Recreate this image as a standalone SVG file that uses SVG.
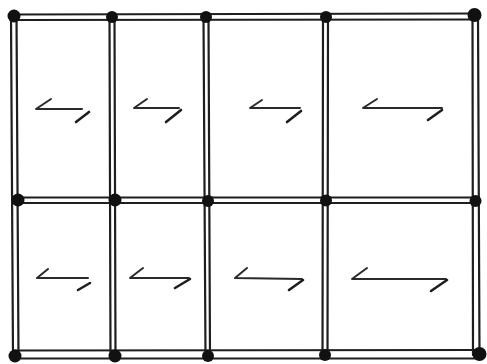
<svg xmlns="http://www.w3.org/2000/svg" width="487" height="364" viewBox="0 0 487 364">
<style>
.ln{stroke:#1e1e1e;stroke-width:2.2;fill:none;stroke-linecap:round}
.dot{fill:#111}
.ar{stroke:#2a2a2a;stroke-width:2;fill:none;stroke-linecap:round;stroke-linejoin:round}
.hk{stroke:#1e1e1e;stroke-width:2.6;fill:none;stroke-linecap:round}
</style>
<rect width="487" height="364" fill="#fff"/>
<g id="grid">
<line class="ln" x1="13" y1="14.5" x2="476" y2="13.5"/>
<line class="ln" x1="13" y1="20" x2="476" y2="19.5"/>
<line class="ln" x1="15" y1="197.5" x2="478" y2="197.5"/>
<line class="ln" x1="15" y1="203" x2="478" y2="203"/>
<line class="ln" x1="14" y1="350.5" x2="480" y2="350"/>
<line class="ln" x1="14" y1="358.5" x2="480" y2="358.5"/>
<line class="ln" x1="11" y1="16" x2="13" y2="357"/>
<line class="ln" x1="16.5" y1="16" x2="18.5" y2="357"/>
<line class="ln" x1="109.5" y1="17" x2="110.5" y2="356"/>
<line class="ln" x1="114.5" y1="17" x2="115.5" y2="356"/>
<line class="ln" x1="203.5" y1="17" x2="205.5" y2="356"/>
<line class="ln" x1="208.5" y1="17" x2="210" y2="356"/>
<line class="ln" x1="323" y1="17" x2="322.5" y2="356"/>
<line class="ln" x1="328" y1="17" x2="327.5" y2="356"/>
<line class="ln" x1="472.5" y1="15" x2="473" y2="355"/>
<line class="ln" x1="478" y1="15" x2="479.5" y2="355"/>
</g>
<g id="junctions">
<circle class="dot" cx="14" cy="16" r="6.5"/>
<circle class="dot" cx="112" cy="17" r="6"/>
<circle class="dot" cx="206" cy="17" r="6"/>
<circle class="dot" cx="326" cy="17" r="6"/>
<circle class="dot" cx="474.5" cy="15" r="7"/>
<circle class="dot" cx="18" cy="200" r="6.5"/>
<circle class="dot" cx="115" cy="200" r="6.5"/>
<circle class="dot" cx="208" cy="201" r="6"/>
<circle class="dot" cx="326" cy="200.5" r="6"/>
<circle class="dot" cx="475.5" cy="201" r="6"/>
<circle class="dot" cx="15" cy="356" r="6.5"/>
<circle class="dot" cx="115" cy="356" r="6.5"/>
<circle class="dot" cx="208" cy="356" r="6"/>
<circle class="dot" cx="325" cy="355" r="6"/>
<circle class="dot" cx="479.5" cy="354" r="7"/>
</g>
<g id="arrows">
<g id="a1"><polyline class="ar" points="51,99 36,109 82,109"/><line class="hk" x1="76" y1="122" x2="89" y2="112"/></g>
<g id="a2"><polyline class="ar" points="147,99 134,108 179,108"/><line class="hk" x1="166" y1="122" x2="181" y2="110"/></g>
<g id="a3"><polyline class="ar" points="262,100 250,108 300,108"/><line class="hk" x1="287" y1="122" x2="301" y2="111"/></g>
<g id="a4"><polyline class="ar" points="377,99 363,108 442,108"/><line class="hk" x1="428" y1="120" x2="442" y2="110"/></g>
<g id="a5"><polyline class="ar" points="48,269 37,278 88,278"/><line class="hk" x1="78" y1="290" x2="90" y2="283"/></g>
<g id="a6"><polyline class="ar" points="143,268 130,278 189,278"/><line class="hk" x1="175" y1="288" x2="190" y2="279"/></g>
<g id="a7"><polyline class="ar" points="247,268 235,278 302,279"/><line class="hk" x1="289" y1="290" x2="303" y2="280"/></g>
<g id="a8"><polyline class="ar" points="367,268 352,279 446,279"/><line class="hk" x1="431" y1="291" x2="447" y2="280"/></g>
</g>
</svg>
